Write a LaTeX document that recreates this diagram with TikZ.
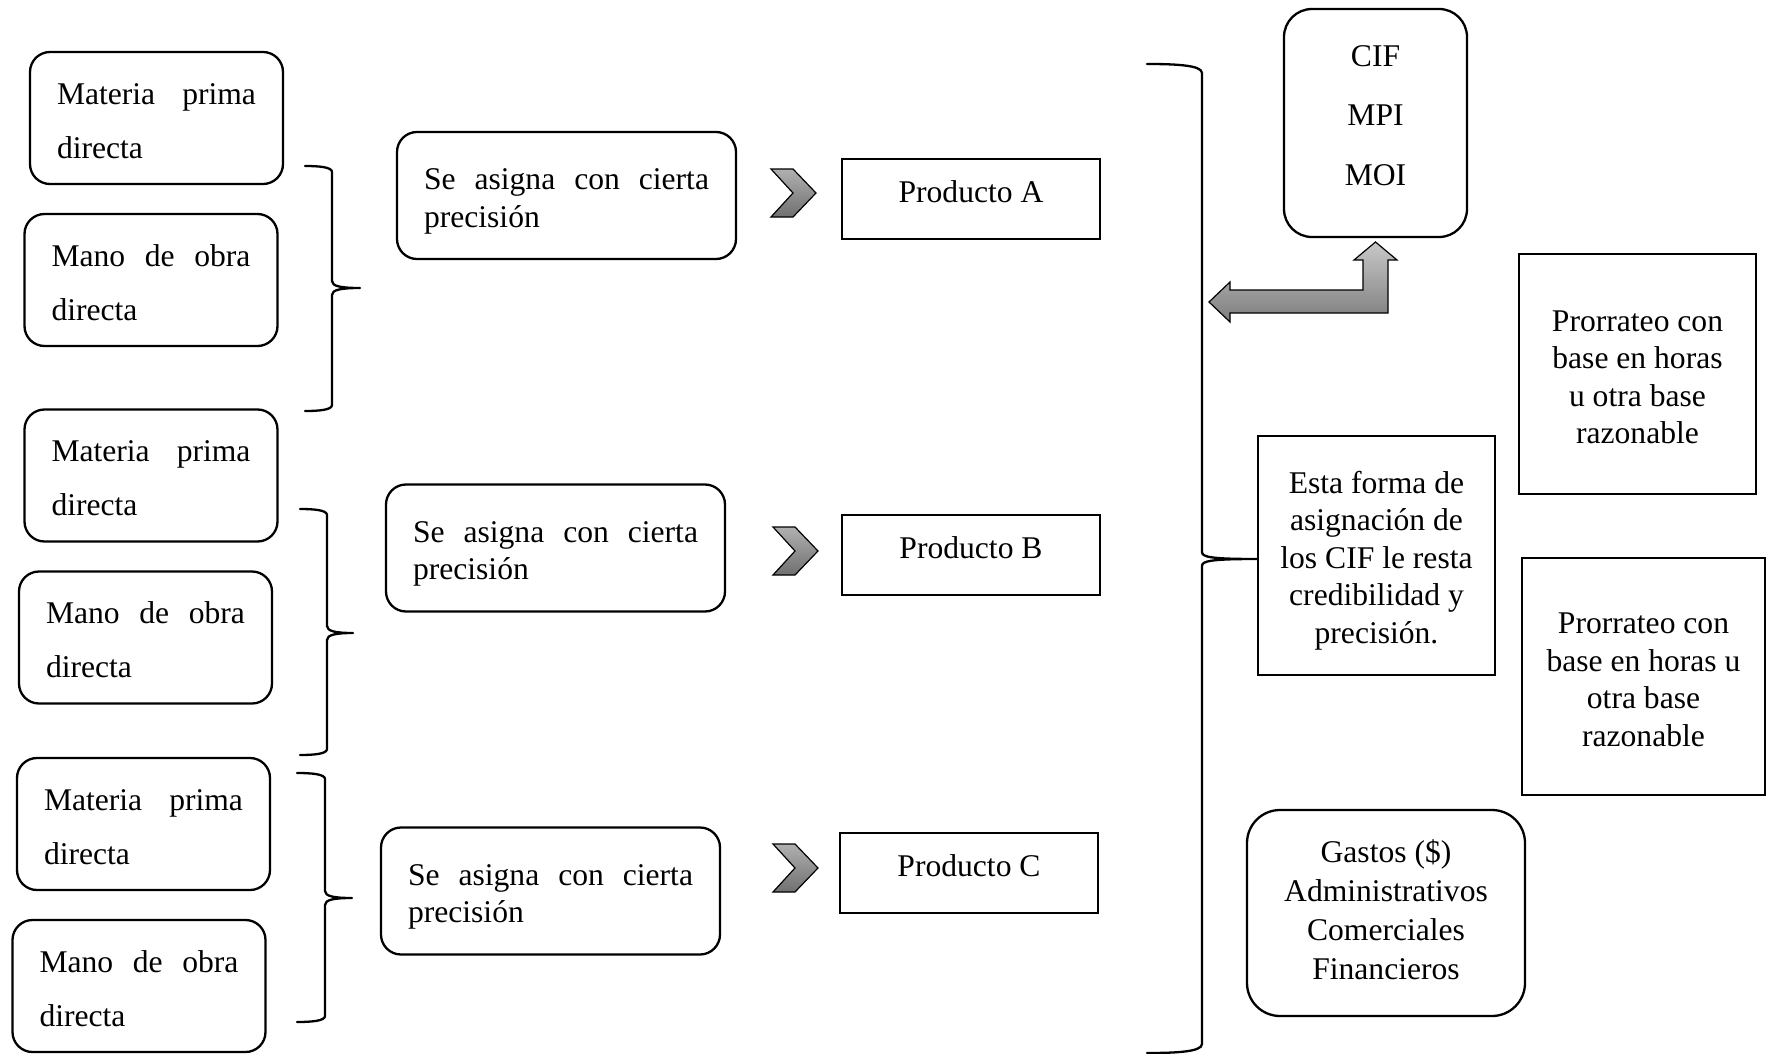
\documentclass[tikz,border=0pt]{standalone}
\usepackage{fontspec}
\setmainfont{Liberation Serif}
\definecolor{chevtop}{RGB}{176,176,176}
\definecolor{chevbot}{RGB}{112,112,112}
\definecolor{arrtop}{RGB}{200,200,200}
\definecolor{arrbot}{RGB}{125,125,125}
% struts that sit the text block a little low in its box
\newcommand{\hiline}{\rule{0pt}{32.5pt}}
\newcommand{\loline}{\rule[-6pt]{0pt}{6pt}}
% right curly brace: end x, top y, stem x, tip x, tip y, bottom y, end bend
\newcommand{\curlyright}[7]{%
  \draw[bracepath] (#1,#2) .. controls ({(#1+#3)/2},#2) and (#3,{#2+1}) .. (#3,{#2+#7})
    -- (#3,{#5-7}) .. controls (#3,{#5-2}) and ({#3+8},#5) .. (#4,#5)
    .. controls ({#3+8},#5) and (#3,{#5+2}) .. (#3,{#5+7})
    -- (#3,{#6-#7}) .. controls (#3,{#6-1}) and ({(#1+#3)/2},#6) .. (#1,#6);}
% chevron: left x, middle y
\newcommand{\chevronat}[2]{%
  \draw[chev] (#1,{#2-24}) -- ++(22,0) -- ++(23,24) -- ++(-23,24) -- ++(-22,0) -- ++(22,-24) -- cycle;}
\begin{document}
\begin{tikzpicture}[x=1pt,y=-1pt,
  every node/.style={font=\fontsize{31.6}{37.5}\selectfont, inner sep=0pt},
  rbox/.style={draw, line width=2.3pt, rounded corners=20pt},
  sbox/.style={draw, line width=2.3pt},
  leftbox/.style={rbox, minimum width=253pt, minimum height=132pt, align=left},
  asignbox/.style={rbox, minimum width=339pt, minimum height=127pt, align=left},
  prodbox/.style={sbox, minimum width=258pt, minimum height=80pt, text height=26.25pt, text depth=19.25pt},
  bracepath/.style={line width=2.3pt, line join=round, line cap=round},
  chev/.style={draw, line width=1.2pt, top color=chevtop, bottom color=chevbot},
  bigarrow/.style={draw, line width=1.2pt, top color=arrtop, bottom color=arrbot},
]
\useasboundingbox (0,0) rectangle (1767,1054);

% direct cost boxes
\node[leftbox] (m1) at (156.5,118) {\hiline\makebox[199pt][s]{Materia prima}\\[16.5pt]directa\loline};
\node[leftbox] (o1) at (151,280) {\hiline\makebox[199pt][s]{Mano de obra}\\[16.5pt]directa\loline};
\node[leftbox] (m2) at (151,475.5) {\hiline\makebox[199pt][s]{Materia prima}\\[16.5pt]directa\loline};
\node[leftbox] (o2) at (145.5,637.5) {\hiline\makebox[199pt][s]{Mano de obra}\\[16.5pt]directa\loline};
\node[leftbox] (m3) at (143.5,824) {\hiline\makebox[199pt][s]{Materia prima}\\[16.5pt]directa\loline};
\node[leftbox] (o3) at (139,986) {\hiline\makebox[199pt][s]{Mano de obra}\\[16.5pt]directa\loline};

% grouping braces
\curlyright{305}{166}{332}{360}{288}{411}{6}
\curlyright{300}{509}{327}{353}{633}{755}{6}
\curlyright{297}{773}{325}{352}{898}{1022}{6}

% assignment boxes
\node[asignbox] (s1) at (566.5,195.5) {\hiline\makebox[285pt][s]{Se asigna con cierta}\\precisión\loline};
\node[asignbox] (s2) at (555.5,548) {\hiline\makebox[285pt][s]{Se asigna con cierta}\\precisión\loline};
\node[asignbox] (s3) at (550.5,891) {\hiline\makebox[285pt][s]{Se asigna con cierta}\\precisión\loline};

% chevrons
\chevronat{771}{193}
\chevronat{773}{551}
\chevronat{773}{868}

% products
\node[prodbox] (pA) at (971,199) {Producto A};
\node[prodbox] (pB) at (971,555) {Producto B};
\node[prodbox] (pC) at (969,873) {Producto C};

% indirect costs
\node[rbox, rounded corners=28pt, minimum width=183pt, minimum height=228pt, align=center, text depth=20.25pt]
  (cif) at (1375.5,123) {\strut CIF\\[22pt]MPI\\[22pt]MOI};
\node[sbox, minimum width=237pt, minimum height=239pt, align=center]
  (esta) at (1376.5,555.5) {\hiline Esta forma de\\asignación de\\los CIF le resta\\credibilidad y\\precisión.\loline};
\node[sbox, minimum width=237pt, minimum height=240pt, align=center]
  (pr1) at (1637.5,374) {\hiline Prorrateo con\\base en horas\\u otra base\\razonable\loline};
\node[sbox, minimum width=243pt, minimum height=237pt, align=center]
  (pr2) at (1643.5,676.5) {\hiline Prorrateo con\\base en horas u\\otra base\\razonable\loline};
\node[rbox, rounded corners=33pt, minimum width=278pt, minimum height=206pt, align=center]
  (gastos) at (1386,913) {\strut Gastos (\$)\\[1.5pt]Administrativos\\[1.5pt]Comerciales\\[1.5pt]Financieros\strut};

% large brace leading to the note box
\curlyright{1147}{64}{1202}{1258}{559}{1053}{9}

% double arrow between brace and CIF box
\draw[bigarrow] (1209,302) -- (1230,282) -- (1230,290) -- (1363,290) -- (1363,260) -- (1354,260)
  -- (1375.5,242) -- (1397,260) -- (1388,260) -- (1388,313) -- (1230,313) -- (1230,322) -- cycle;
\end{tikzpicture}
\end{document}
